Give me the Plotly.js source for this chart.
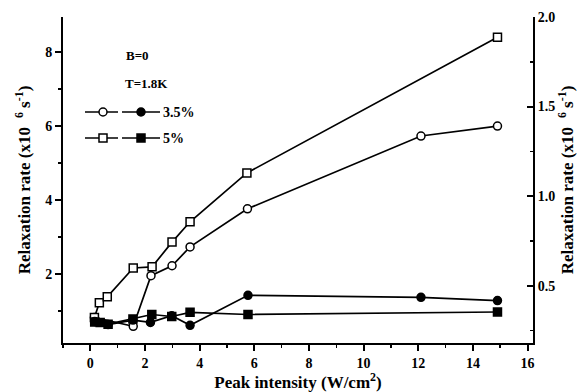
<!DOCTYPE html>
<html>
<head>
<meta charset="utf-8">
<script src="https://cdn.plot.ly/plotly-3.0.1.min.js"></script>
<style>html,body{margin:0;padding:0;background:#fff;}#chart{width:583px;height:392px;}</style>
</head>
<body>
<div id="chart"></div>
<script>
// Open symbols: left axis (x10^6 s^-1)
const openCircleX = [0.15, 1.57, 2.22, 2.99, 3.65, 5.75, 12.1, 14.9];
const openCircleY = [0.82, 0.58, 1.95, 2.22, 2.73, 3.76, 5.73, 6.0];
const openSquareX = [0.15, 0.33, 0.62, 1.57, 2.26, 2.99, 3.65, 5.73, 14.9];
const openSquareY = [0.82, 1.22, 1.38, 2.16, 2.19, 2.86, 3.41, 4.73, 8.4];
// Filled symbols: right axis (x10^6 s^-1)
const filledCircleX = [0.16, 0.65, 1.56, 2.2, 2.98, 3.65, 5.77, 12.1, 14.9];
const filledCircleY = [0.300, 0.283, 0.308, 0.295, 0.332, 0.279, 0.446, 0.435, 0.417];
const filledSquareX = [0.16, 0.36, 0.65, 1.56, 2.25, 2.98, 3.65, 5.77, 14.9];
const filledSquareY = [0.297, 0.295, 0.285, 0.314, 0.339, 0.328, 0.351, 0.339, 0.353];
const legendLabels = ["3.5%", "5%"];
const notes = ["B=0", "T=1.8K"];

const F = "Liberation Serif, Times New Roman, serif";
const lineStyle = {color: "#000", width: 1.7};
function tr(x, y, sym, fill, yaxis) {
  return {x: x, y: y, type: "scatter", mode: "lines+markers", yaxis: yaxis,
    line: lineStyle, showlegend: false, hoverinfo: "skip",
    marker: {symbol: sym, size: 8, color: fill, line: {color: "#000", width: 1.5}}};
}
const data = [
  tr(openCircleX, openCircleY, "circle", "#fff", "y"),
  tr(openSquareX, openSquareY, "square", "#fff", "y"),
  tr(filledCircleX, filledCircleY, "circle", "#000", "y2"),
  tr(filledSquareX, filledSquareY, "square", "#000", "y2")
];

const tickFont = {family: F, size: 14, color: "#000", weight: "bold"};
const axBase = {showgrid: false, zeroline: false, linecolor: "#000", linewidth: 2,
  ticks: "outside", tickcolor: "#000", tickwidth: 2, ticklen: 6,
  tickfont: tickFont, showline: true};
const minorOut = {ticks: "outside", ticklen: 3, tickcolor: "#000", tickwidth: 1.5};
const minorIn = {ticks: "inside", ticklen: 3, tickcolor: "#000", tickwidth: 1.5};
const titleFont = {family: F, size: 17, color: "#000"};
const yTitle = "<b>Relaxation rate (x10<sup>   6</sup> s<sup>-1</sup>)</b>";

// legend glyphs in paper coords
const shapes = [];
const annotations = [];
function px(x) { return (x - 63) / 470; }
function py(y) { return (343 - y) / 326; }
[112, 138].forEach(function(yy, i) {
  [[85, 118], [122, 160]].forEach(function(seg) {
    shapes.push({type: "line", xref: "paper", yref: "paper", x0: px(seg[0]), x1: px(seg[1]),
      y0: py(yy), y1: py(yy), line: {color: "#000", width: 1.7}});
  });
  [[103, "#fff"], [141, "#000"]].forEach(function(m) {
    const r = 4;
    shapes.push({type: i === 0 ? "circle" : "rect", xref: "paper", yref: "paper",
      x0: px(m[0] - r), x1: px(m[0] + r), y0: py(yy + r), y1: py(yy - r),
      fillcolor: m[1], line: {color: "#000", width: 1.5}});
  });
  annotations.push({xref: "paper", yref: "paper", x: px(161), y: py(yy), xanchor: "left",
    yanchor: "middle", showarrow: false, text: "<b>" + legendLabels[i] + "</b>",
    font: {family: F, size: 14, color: "#000"}});
});
annotations.push({xref: "paper", yref: "paper", x: px(124), y: py(55), xanchor: "left", yanchor: "middle",
  showarrow: false, text: "<b>" + notes[0] + "</b>", font: {family: F, size: 13, color: "#000"}});
annotations.push({xref: "paper", yref: "paper", x: px(123), y: py(83), xanchor: "left", yanchor: "middle",
  showarrow: false, text: "<b>" + notes[1] + "</b>", font: {family: F, size: 13, color: "#000"}});

const layout = {
  width: 583, height: 392,
  margin: {l: 63, r: 50, t: 17, b: 49},
  paper_bgcolor: "#fff", plot_bgcolor: "#fff",
  showlegend: false,
  xaxis: Object.assign({}, axBase, {range: [-1.0, 16.2], tickvals: [0, 2, 4, 6, 8, 10, 12, 14, 16],
    minor: Object.assign({tickvals: [-1, 1, 3, 5, 7, 9, 11, 13, 15]}, minorOut),
    title: {text: "<b>Peak intensity (W/cm<sup>2</sup>)</b>", font: titleFont, standoff: 3}}),
  xaxis2: Object.assign({}, axBase, {range: [-1.0, 16.2], overlaying: "x", side: "top", anchor: "y",
    ticks: "inside", tickvals: [0, 2, 4, 6, 8, 10, 12, 14, 16], showticklabels: false,
    minor: Object.assign({tickvals: [-1, 1, 3, 5, 7, 9, 11, 13, 15]}, minorIn)}),
  yaxis: Object.assign({}, axBase, {range: [0.13, 8.95], tickvals: [2, 4, 6, 8],
    minor: Object.assign({tickvals: [1, 3, 5, 7]}, minorOut),
    title: {text: yTitle, font: titleFont, standoff: 10}}),
  yaxis2: Object.assign({}, axBase, {range: [0.18, 2.0], overlaying: "y", side: "right", anchor: "x",
    ticks: "inside", tickvals: [0.5, 1.0, 1.5, 2.0], ticktext: ["0.5", "1.0", "1.5", "2.0"],
    minor: Object.assign({tickvals: [0.25, 0.75, 1.25, 1.75]}, minorIn),
    title: {text: yTitle, font: titleFont, standoff: 4}}),
  shapes: shapes,
  annotations: annotations
};
Plotly.newPlot("chart", data, layout, {displayModeBar: false, staticPlot: true});
</script>
</body>
</html>
